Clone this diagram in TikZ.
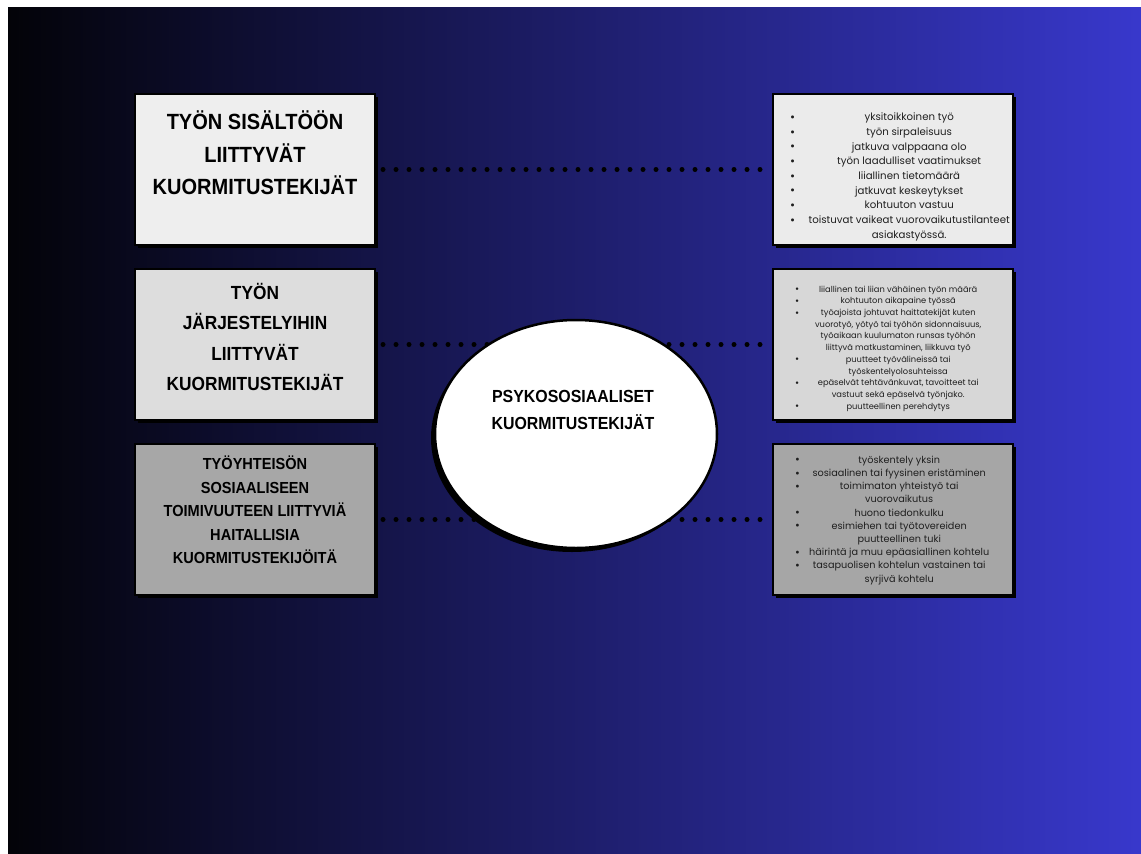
\documentclass[tikz,border=0pt]{standalone}
\usepackage{fontspec}
\usepackage{array}
\usepackage{xcolor}
\usetikzlibrary{
	shapes.geometric,
	shadows,
	positioning
}
\setmainfont{Poppins}
\newfontfamily\titlefont[FakeStretch=0.91]{Liberation Sans}
\newfontfamily\listfont{Poppins}
\newcommand{\pallo}{\raisebox{-0.12ex}{\scalebox{1.2}{•}}}
\definecolor{BgLeft}{HTML}{030308}
\definecolor{BgMid}{HTML}{1C1C6E}
\definecolor{BgRight}{HTML}{3838CC}
\definecolor{CardA}{HTML}{EEEEEE}
\definecolor{CardB}{HTML}{DDDDDD}
\definecolor{CardC}{HTML}{A7A7A7}
\definecolor{ListA}{HTML}{EBEBEB}
\definecolor{ListB}{HTML}{D7D7D7}
\definecolor{ListC}{HTML}{A6A6A6}

\begin{document}
\begin{tikzpicture}[x=1pt, y=-1pt,
		card/.style={draw=black, line width=2pt, minimum width=240pt, minimum height=151pt, inner sep=0pt,
			drop shadow={shadow xshift=3pt, shadow yshift=-3pt, opacity=1, fill=black}},
		hub/.style={ellipse, draw=black, line width=2.5pt, fill=white, minimum width=282pt, minimum height=228pt, inner sep=0pt,
			drop shadow={shadow xshift=-4pt, shadow yshift=-4pt, opacity=1, fill=black}},
		title/.style={align=center, inner sep=0pt, text=black},
		list/.style={anchor=north west, inner sep=0pt, text=black!88},
		dots/.style={line width=5pt, dash pattern=on 0pt off 13pt, line cap=round, shorten <=7pt, shorten >=4pt}
	]
		% 背景
		\useasboundingbox (0,0) rectangle (1141,854);
		\fill[white] (0,0) rectangle (1141,854);
		\shade[left color=BgLeft, middle color=BgMid, right color=BgRight] (8,7) rectangle (1141,854);
		
		% 左边的三个框
		\node[card, fill=CardA] (tyo1) at (255,169.5) {};
		\node[card, fill=CardB] (tyo2) at (255,344.5) {};
		\node[card, fill=CardC] (tyo3) at (255,519.5) {};
		
		% 右边的三个框
		\node[card, fill=ListA] (lista1) at (893,169.5) {};
		\node[card, fill=ListB] (lista2) at (893,344.5) {};
		\node[card, fill=ListC] (lista3) at (893,519.5) {};
		
		\draw[dots] (tyo1.east) -- (lista1.west);
		\draw[dots] (tyo2.east) -- (lista2.west);
		\draw[dots] (tyo3.east) -- (lista3.west);
		
		% 中间的椭圆
		\node[hub] (psyko) at (576,434) {};
		\node[title, font={\titlefont\bfseries\fontsize{17.5}{27}\selectfont}] (psykoT) at (573,410)
			{PSYKOSOSIAALISET\\KUORMITUSTEKIJÄT};
		
		\node[title, font={\titlefont\bfseries\fontsize{22}{32.5}\selectfont}] (tyo1T) at (255,153)
			{TYÖN SISÄLTÖÖN\\LIITTYVÄT\\KUORMITUSTEKIJÄT};
		\node[title, font={\titlefont\bfseries\fontsize{19}{30.3}\selectfont}] (tyo2T) at (255,337)
			{TYÖN\\JÄRJESTELYIHIN\\LIITTYVÄT\\KUORMITUSTEKIJÄT};
		\node[title, font={\titlefont\bfseries\fontsize{16}{23.5}\selectfont}] (tyo3T) at (255,510)
			{TYÖYHTEISÖN\\SOSIAALISEEN\\TOIMIVUUTEEN LIITTYVIÄ\\HAITALLISIA\\KUORMITUSTEKIJÖITÄ};
		
		% listat
		\node[list, font={\listfont\fontsize{10.2}{14.7}\selectfont}] (lista1T) at (790,110.2) {%
			\begin{tabular}{@{}w{l}{18pt}@{}w{c}{202pt}@{}}
				\pallo & yksitoikkoinen työ\\
				\pallo & työn sirpaleisuus\\
				\pallo & jatkuva valppaana olo\\
				\pallo & työn laadulliset vaatimukset\\
				\pallo & liiallinen tietomäärä\\
				\pallo & jatkuvat keskeytykset\\
				\pallo & kohtuuton vastuu\\
				\pallo & toistuvat vaikeat vuorovaikutustilanteet\\
				       & asiakastyössä.
			\end{tabular}};
		\node[list, font={\listfont\fontsize{8.3}{11.7}\selectfont}] (lista2T) at (795,283.8) {%
			\begin{tabular}{@{}w{l}{13pt}@{}w{c}{180pt}@{}}
				\pallo & liiallinen tai liian vähäinen työn määrä\\
				\pallo & kohtuuton aikapaine työssä\\
				\pallo & työajoista johtuvat haittatekijät kuten\\
				       & vuorotyö, yötyö tai työhön sidonnaisuus,\\
				       & työaikaan kuulumaton runsas työhön\\
				       & liittyvä matkustaminen, liikkuva työ\\
				\pallo & puutteet työvälineissä tai\\
				       & työskentelyolosuhteissa\\
				\pallo & epäselvät tehtävänkuvat, tavoitteet tai\\
				       & vastuut sekä epäselvä työnjako.\\
				\pallo & puutteellinen perehdytys
			\end{tabular}};
		\node[list, font={\listfont\fontsize{9.7}{13.2}\selectfont}] (lista3T) at (795,453.8) {%
			\begin{tabular}{@{}w{l}{13pt}@{}w{c}{182pt}@{}}
				\pallo & työskentely yksin\\
				\pallo & sosiaalinen tai fyysinen eristäminen\\
				\pallo & toimimaton yhteistyö tai\\
				       & vuorovaikutus\\
				\pallo & huono tiedonkulku\\
				\pallo & esimiehen tai työtovereiden\\
				       & puutteellinen tuki\\
				\pallo & häirintä ja muu epäasiallinen kohtelu\\
				\pallo & tasapuolisen kohtelun vastainen tai\\
				       & syrjivä kohtelu
			\end{tabular}};
	\end{tikzpicture}
\end{document}
